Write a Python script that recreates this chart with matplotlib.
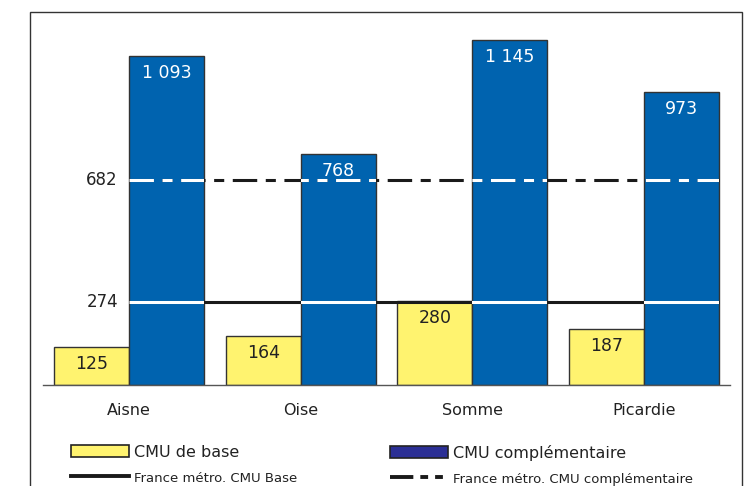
import matplotlib
matplotlib.use('Agg')
import matplotlib.pyplot as plt
import numpy as np
from matplotlib.patches import Patch, Rectangle
from matplotlib.lines import Line2D

# data
regions = ['Aisne', 'Oise', 'Somme', 'Picardie']
cmu_base = [125, 164, 280, 187]
cmu_compl = [1093, 768, 1145, 973]
base_labels = ['125', '164', '280', '187']
compl_labels = ['1 093', '768', '1 145', '973']
france_base = 274
france_compl = 682

yellow = '#FFF36F'
blue = '#0063AF'
navy = '#2B2F95'
dash = (0, (8, 2.8, 3.3, 2.8))

plt.rcParams['font.family'] = 'DejaVu Sans'
fig = plt.figure(figsize=(7.44, 4.86), dpi=100)
ax = fig.add_axes([43/744, 101/486, 687/744, 373/486])

x = np.arange(len(regions))
w = 0.436
b1 = ax.bar(x - w/2, cmu_base, w, color=yellow, edgecolor='#333333', linewidth=1, zorder=2)
b2 = ax.bar(x + w/2, cmu_compl, w, color=blue, edgecolor='#333333', linewidth=1, zorder=2)

# reference lines: black outside blue bars, white inside
xs = [0, x[-1] + w]
ax.plot(xs, [france_base]*2, color='#1a1a1a', lw=2.2, zorder=3, solid_capstyle='butt')
ax.plot(xs, [france_compl]*2, color='#1a1a1a', lw=2.2, ls=dash, zorder=3)
for bar in b2:
    l1, = ax.plot(xs, [france_base]*2, color='white', lw=2.2, zorder=4, solid_capstyle='butt')
    l2, = ax.plot(xs, [france_compl]*2, color='white', lw=2.2, ls=dash, zorder=4)
    l1.set_clip_path(bar)
    l2.set_clip_path(bar)

for bar, lab in zip(b1, base_labels):
    ax.annotate(lab, (bar.get_x() + bar.get_width()/2, bar.get_height()),
                xytext=(0, -17), textcoords='offset pixels', ha='center', va='center',
                fontsize=12.5, color='#222222', zorder=5)
for bar, lab in zip(b2, compl_labels):
    ax.annotate(lab, (bar.get_x() + bar.get_width()/2, bar.get_height()),
                xytext=(0, -17), textcoords='offset pixels', ha='center', va='center',
                fontsize=12.5, color='white', zorder=5)

# reference values written next to the lines
for v in [france_base, france_compl]:
    ax.annotate(str(v), (0, v), xytext=(-11, 0), textcoords='offset pixels',
                ha='right', va='center', fontsize=12, color='#222222')

ax.set_xlim(-0.5, 3.5)
ax.set_ylim(0, 1238)
ax.set_xticks(x)
ax.set_xticklabels(regions, fontsize=11.5, color='#222222')
ax.tick_params(axis='x', length=0, pad=13)
ax.set_yticks([])
for s in ['left', 'right', 'top']:
    ax.spines[s].set_visible(False)
ax.spines['bottom'].set_color('#555555')
ax.spines['bottom'].set_linewidth(1)
ax.patch.set_visible(False)

# outer frame
fig.add_artist(Rectangle((30/744, -0.1), 712/744, 0.1 + 474/486, transform=fig.transFigure,
                         fill=False, edgecolor='#333333', linewidth=1))

# legend, two columns
h1 = [Patch(facecolor=yellow, edgecolor='#222222', linewidth=1.2),
      Line2D([], [], color='#1a1a1a', lw=2.8)]
h2 = [Patch(facecolor=navy, edgecolor='#222222', linewidth=1.2),
      Line2D([], [], color='#1a1a1a', lw=2.8, ls=(0, (6, 1.8, 2, 1.8, 2, 3)))]
for handles, labels, xpos in [(h1, ['CMU de base', 'France métro. CMU Base'], 71),
                              (h2, ['CMU complémentaire', 'France métro. CMU complémentaire'], 390)]:
    leg = fig.legend(handles, labels, loc='upper left',
                     bbox_to_anchor=(xpos/744, 1 - 445/486), frameon=False,
                     fontsize=12, handlelength=3.5, handletextpad=0.3,
                     borderaxespad=0, borderpad=0, labelspacing=0.6)
    leg.get_texts()[0].set_fontsize(11.5)
    leg.get_texts()[1].set_fontsize(9.5)
    for t in leg.get_texts():
        t.set_color('#222222')

fig.savefig('out.png', dpi=100)
